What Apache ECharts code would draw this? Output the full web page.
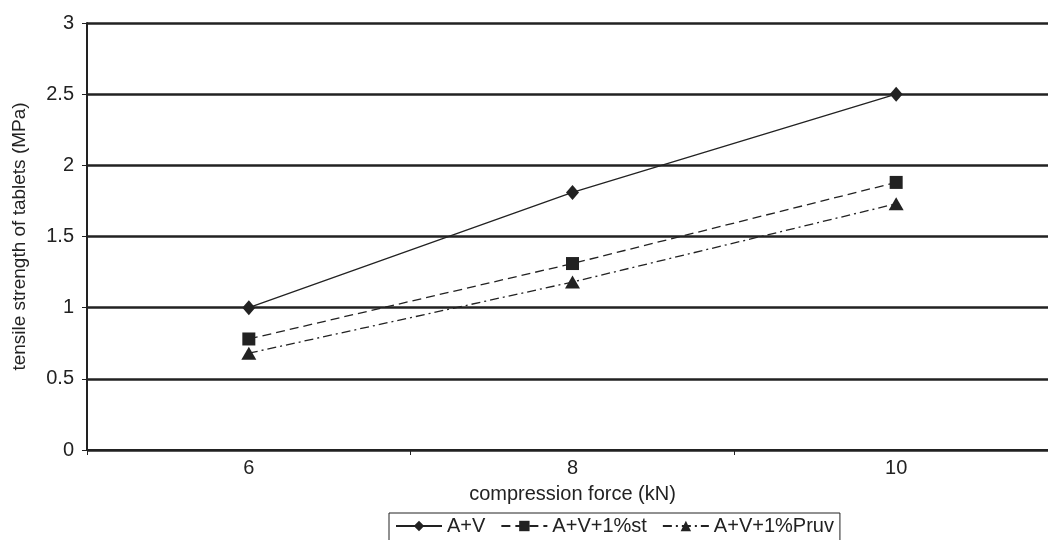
<!DOCTYPE html>
<html>
<head>
<meta charset="utf-8">
<script src="https://cdn.jsdelivr.net/npm/echarts@6/dist/echarts.min.js"></script>
<style>html,body{margin:0;padding:0;background:#fff}#c{width:1048px;height:540px}</style>
</head>
<body>
<div id="c"></div>
<script>
const categories = ['6', '8', '10'];
const seriesNames = ['A+V', 'A+V+1%st', 'A+V+1%Pruv'];
const avValues = [1.0, 1.81, 2.5];
const stValues = [0.78, 1.31, 1.88];
const pruvValues = [0.68, 1.18, 1.73];
const yTicks = [0, 0.5, 1, 1.5, 2, 2.5, 3];

const ink = '#222';
const font = 'Liberation Sans, Arial, sans-serif';
const fs = 19;
const fsBig = 20;
const chart = echarts.init(document.getElementById('c'), null, {renderer: 'canvas'});
chart.setOption({
  animation: false,
  backgroundColor: '#fff',
  textStyle: {fontFamily: font, color: ink},
  grid: {left: 87, top: 23, width: 971, height: 427, containLabel: false, outerBoundsMode: 'none'},
  legend: {
    data: seriesNames,
    left: 389,
    top: 513,
    itemWidth: 46,
    itemHeight: 13,
    itemGap: 15,
    padding: [3, 6, 16, 6],
    borderColor: ink,
    borderWidth: 1,
    borderRadius: 0,
    textStyle: {fontFamily: font, fontSize: fsBig, color: ink}
  },
  xAxis: {
    type: 'category',
    data: categories,
    boundaryGap: true,
    name: 'compression force (kN)',
    nameLocation: 'middle',
    nameGap: 34,
    nameTextStyle: {fontFamily: font, fontSize: fsBig, color: ink},
    axisLine: {show: true, lineStyle: {color: ink, width: 2}},
    axisTick: {show: true, length: 5, interval: 0, lineStyle: {color: ink, width: 1}},
    axisLabel: {fontFamily: font, fontSize: fsBig, color: ink, margin: 8},
    splitLine: {show: false}
  },
  yAxis: {
    type: 'value',
    min: 0,
    max: 3,
    interval: 0.5,
    name: 'tensile strength of tablets (MPa)',
    nameLocation: 'middle',
    nameGap: 58,
    nameRotate: 90,
    nameTextStyle: {fontFamily: font, fontSize: fs, color: ink},
    axisLine: {show: true, lineStyle: {color: ink, width: 2}},
    axisTick: {show: true, length: 5, lineStyle: {color: ink, width: 1}},
    axisLabel: {fontFamily: font, fontSize: fsBig, color: ink, margin: 13,
      formatter: v => (yTicks.includes(v) ? String(v) : '')},
    splitLine: {show: true, lineStyle: {color: ink, width: 2.5}}
  },
  series: [
    {
      name: seriesNames[0], type: 'line', data: avValues,
      symbol: 'diamond', symbolSize: [13, 15],
      itemStyle: {color: ink}, lineStyle: {color: ink, width: 1.3, type: 'solid'}
    },
    {
      name: seriesNames[1], type: 'line', data: stValues,
      symbol: 'rect', symbolSize: 13,
      itemStyle: {color: ink}, lineStyle: {color: ink, width: 1.3, type: [9, 5]}
    },
    {
      name: seriesNames[2], type: 'line', data: pruvValues,
      symbol: 'triangle', symbolSize: [15, 13],
      itemStyle: {color: ink}, lineStyle: {color: ink, width: 1.3, type: [9, 4, 2, 4]}
    }
  ]
});
</script>
</body>
</html>
